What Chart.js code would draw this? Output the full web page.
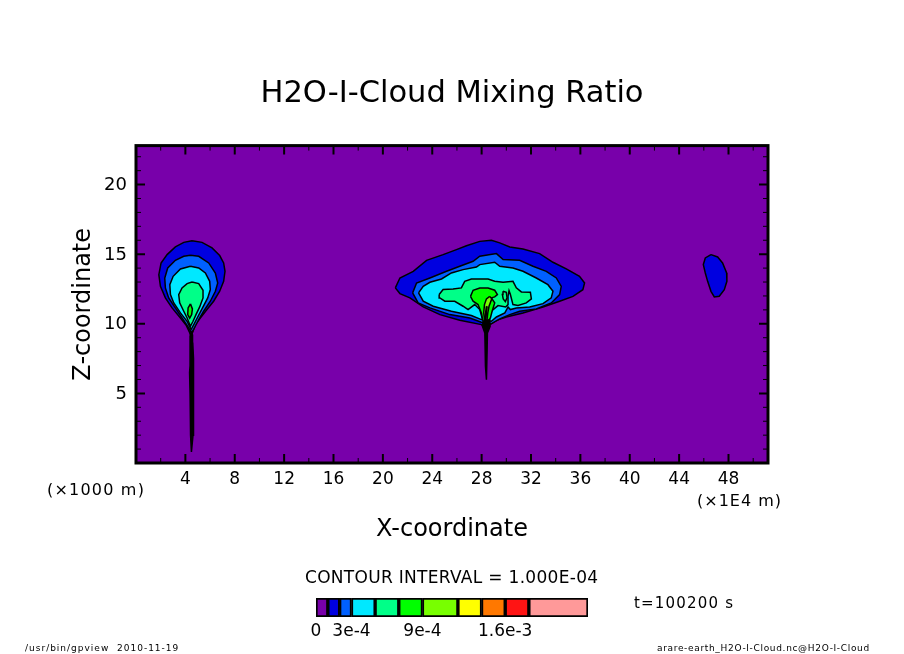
<!DOCTYPE html>
<html>
<head>
<meta charset="utf-8">
<title>H2O-I-Cloud Mixing Ratio</title>
<script src="https://cdn.jsdelivr.net/npm/chart.js@4"></script>
<style>
    body { margin: 0; background: #fff; }
    #wrap { position: relative; width: 904px; height: 654px; overflow: hidden; font-family: "DejaVu Sans", sans-serif; color: #000; }
    canvas { position: absolute; left: 0; top: 0; }
    .txt { position: absolute; white-space: pre; line-height: 1; }
</style>
</head>
<body>
<div id="wrap">
    <canvas id="chartContour" width="904" height="654"></canvas>
    <canvas id="chartBarra" width="904" height="654"></canvas>
    <span class="txt" style="left:47px;top:482px;font-size:16px;letter-spacing:1.2px">(×1000 m)</span>
    <span class="txt" style="left:697px;top:493px;font-size:16px;letter-spacing:1px">(×1E4 m)</span>
    <span class="txt" style="left:305px;top:569px;font-size:17px;letter-spacing:0.3px">CONTOUR INTERVAL = 1.000E-04</span>
    <span class="txt" style="left:634px;top:596px;font-size:15px;letter-spacing:1.2px">t=100200 s</span>
    <span class="txt" style="left:25px;top:644px;font-size:9px;letter-spacing:1px">/usr/bin/gpview  2010-11-19</span>
    <span class="txt" style="left:657px;top:644px;font-size:9px;letter-spacing:0.67px">arare-earth_H2O-I-Cloud.nc@H2O-I-Cloud</span>
</div>
<script>
// ticks
const xMajor = [4, 8, 12, 16, 20, 24, 28, 32, 36, 40, 44, 48];
const xMinor = [2, 6, 10, 14, 18, 22, 26, 30, 34, 38, 42, 46, 50];
const zMajor = [5, 10, 15, 20];
const zMinor = [1, 2, 3, 4, 6, 7, 8, 9, 11, 12, 13, 14, 16, 17, 18, 19, 21, 22];

// contour outlines [x (1E4 m), z (1000 m)]
const left1 = [[4.54,15.97],[5.35,15.85],[6.16,15.45],[6.78,14.90],[7.10,14.37],[7.21,13.77],[7.10,13.05],[6.78,12.34],[6.29,11.62],[5.75,11.02],[5.21,10.42],[4.81,9.94],[4.62,9.46],[4.46,9.10],[4.30,9.46],[4.08,9.87],[3.60,10.42],[2.92,11.14],[2.38,11.86],[1.98,12.69],[1.85,13.53],[2.03,14.37],[2.52,14.97],[3.19,15.52],[3.87,15.85]];
const left2 = [[4.41,14.92],[5.08,14.85],[5.89,14.37],[6.43,13.65],[6.62,12.93],[6.43,12.34],[6.02,11.62],[5.48,10.90],[5.08,10.30],[4.73,9.70],[4.51,9.34],[4.19,9.82],[3.73,10.42],[3.19,11.14],[2.65,11.86],[2.38,12.58],[2.33,13.29],[2.57,14.01],[3.19,14.56],[3.87,14.85]];
const left3 = [[4.41,14.13],[5.08,14.01],[5.62,13.65],[5.97,13.05],[6.02,12.46],[5.81,11.86],[5.43,11.21],[5.03,10.54],[4.68,9.94],[4.46,9.58],[4.14,10.18],[3.60,10.78],[3.06,11.50],[2.79,12.10],[2.74,12.81],[3.01,13.41],[3.60,13.94]];
const left4 = [[4.54,13.00],[5.08,12.89],[5.43,12.41],[5.43,11.86],[5.16,11.21],[4.86,10.66],[4.62,10.18],[4.41,9.82],[4.14,10.42],[3.87,10.90],[3.54,11.50],[3.46,12.10],[3.73,12.58],[4.14,12.89]];
const left5 = [[4.41,11.43],[4.57,11.07],[4.51,10.66],[4.35,10.40],[4.19,10.66],[4.22,11.14]];
const leftStem = [[4.49,0.8],[4.62,2],[4.66,5],[4.66,7.5],[4.60,8.6],[4.58,9.2],[4.46,9.4],[4.38,9.1],[4.38,8.4],[4.38,7],[4.34,6.5],[4.38,5],[4.42,2]];

const mid1 = [[21.01,12.58],[21.38,13.29],[22.46,13.77],[23.54,14.56],[24.88,14.97],[25.96,15.33],[26.77,15.61],[27.85,15.92],[28.79,16.00],[29.47,15.81],[30.28,15.52],[31.35,15.37],[32.70,15.04],[33.78,14.42],[34.86,13.94],[35.93,13.41],[36.34,12.93],[36.20,12.45],[35.40,11.97],[34.32,11.62],[32.97,11.21],[31.35,10.78],[30.00,10.49],[29.20,10.25],[28.66,9.94],[28.17,9.78],[27.98,9.94],[26.23,10.25],[24.62,10.66],[23.27,11.21],[22.19,11.86],[21.38,12.17]];
const mid2 = [[22.41,12.22],[22.73,12.93],[23.81,13.29],[25.16,13.77],[26.23,14.13],[27.31,14.49],[27.85,14.85],[29.20,15.04],[29.74,14.61],[31.08,14.56],[32.16,14.13],[33.24,13.77],[34.05,13.29],[34.45,12.69],[34.32,12.10],[33.64,11.50],[32.43,11.07],[31.08,10.90],[30.28,10.66],[29.47,10.35],[28.79,10.01],[27.98,10.11],[27.04,10.42],[25.42,10.66],[23.81,11.14],[22.86,11.50]];
const mid3 = [[22.89,12.22],[23.27,12.69],[23.81,12.98],[24.75,13.22],[25.55,13.65],[26.50,13.89],[27.58,14.08],[27.85,14.25],[29.06,14.42],[29.47,14.13],[30.54,14.01],[31.35,13.77],[32.43,13.29],[33.37,12.81],[33.78,12.34],[33.64,11.86],[32.97,11.45],[31.89,11.21],[30.81,11.14],[30.33,11.02],[30.14,11.21],[29.88,10.78],[29.20,10.49],[28.79,10.18],[27.98,10.30],[27.17,10.59],[25.55,10.90],[24.08,11.26],[23.27,11.62]];
const mid4 = [[24.56,12.10],[24.88,12.46],[25.69,12.50],[26.36,12.58],[26.63,13.05],[27.17,13.22],[28.12,13.22],[28.52,13.22],[29.06,13.05],[29.74,12.98],[30.54,13.05],[30.81,12.58],[31.22,12.29],[31.95,12.26],[32.03,11.79],[31.62,11.50],[30.95,11.31],[30.54,11.38],[30.33,12.10],[30.22,12.38],[30.14,11.98],[30.14,11.38],[29.95,11.21],[29.33,11.31],[28.93,11.02],[28.52,10.66],[28.25,10.35],[28.06,10.35],[27.85,11.02],[27.44,11.38],[26.90,11.02],[26.50,11.26],[25.82,11.62],[25.02,11.62],[24.62,11.86]];
const midIsland = [[29.73,12.34],[30.00,12.26],[30.06,11.86],[29.92,11.59],[29.75,11.78],[29.68,12.10]];
const mid5 = [[27.10,11.97],[27.31,12.41],[27.85,12.57],[28.52,12.57],[29.06,12.41],[29.28,12.10],[29.06,11.93],[28.79,11.86],[29.06,11.50],[28.85,10.90],[28.71,10.42],[28.44,10.06],[28.12,10.18],[27.98,10.78],[27.71,11.38],[27.31,11.62]];
const mid6 = [[28.66,11.97],[28.82,11.79],[28.60,11.26],[28.50,10.78],[28.44,10.30],[28.26,10.18],[28.17,10.78],[28.23,11.38],[28.39,11.79]];
const midStrand = [[28.39,11.26],[28.44,11.21],[28.33,10.30],[28.25,10.30]];
const midStem = [[28.12,10.18],[28.66,10.30],[28.69,9.82],[28.47,9.34],[28.44,7.91],[28.39,5.99],[28.31,6.95],[28.26,9.34],[28.07,9.82]];
const right1 = [[46.58,14.97],[47.12,14.80],[47.52,14.37],[47.85,13.65],[47.87,13.05],[47.66,12.45],[47.25,11.98],[46.85,11.93],[46.58,12.33],[46.31,13.05],[46.12,13.65],[45.96,14.25],[46.12,14.73]];

// colour bar
const barEdges = [0, 1e-4, 2e-4, 3e-4, 5e-4, 7e-4, 9e-4, 12e-4, 14e-4, 16e-4, 18e-4, 23e-4];
const barCores = ['#7800aa', '#0000e0', '#0060ff', '#00e8ff', '#00ff88', '#00ff00', '#78ff00', '#ffff00', '#ff7800', '#ff1414', '#ff9999'];
const barTicks = [0, 3e-4, 9e-4, 16e-4];
const barLabels = ['0', '3e-4', '9e-4', '1.6e-3'];

const contornos = [
    [left1, barCores[1]], [left2, barCores[2]], [left3, barCores[3]], [left4, barCores[4]], [left5, barCores[5]],
    [mid1, barCores[1]], [mid2, barCores[2]], [mid3, barCores[3]], [mid4, barCores[4]], [midIsland, barCores[4]],
    [mid5, barCores[5]], [mid6, barCores[6]], [midStrand, '#000'],
    [right1, barCores[1]], [leftStem, '#000'], [midStem, '#000']
];

function montarDataset(par, i) {
    const pontos = par[0].map(p => ({ x: p[0], y: p[1] }));
    pontos.push(pontos[0]);
    return {
        data: pontos,
        showLine: true,
        fill: 'shape',
        backgroundColor: par[1],
        borderColor: '#000',
        borderWidth: 1.5,
        pointRadius: 0,
        tension: 0,
        order: -i
    };
}

// purple field, frame and inward ticks on all four sides
const molduraPlugin = {
    id: 'moldura',
    beforeDatasetsDraw(chart) {
        const { ctx, chartArea: a } = chart;
        ctx.fillStyle = barCores[0];
        ctx.fillRect(a.left, a.top, a.width, a.height);
    },
    afterDatasetsDraw(chart) {
        const { ctx, chartArea: a, scales } = chart;
        ctx.save();
        ctx.strokeStyle = '#000';
        ctx.lineWidth = 2;
        const marca = (v, len) => {
            const px = scales.x.getPixelForValue(v);
            ctx.beginPath();
            ctx.moveTo(px, a.bottom); ctx.lineTo(px, a.bottom - len);
            ctx.moveTo(px, a.top); ctx.lineTo(px, a.top + len);
            ctx.stroke();
        };
        const marcaZ = (v, len) => {
            const py = scales.y.getPixelForValue(v);
            ctx.beginPath();
            ctx.moveTo(a.left, py); ctx.lineTo(a.left + len, py);
            ctx.moveTo(a.right, py); ctx.lineTo(a.right - len, py);
            ctx.stroke();
        };
        xMajor.forEach(v => marca(v, 9));
        zMajor.forEach(v => marcaZ(v, 9));
        ctx.lineWidth = 1;
        xMinor.forEach(v => marca(v, 5));
        zMinor.forEach(v => marcaZ(v, 5));
        ctx.lineWidth = 3;
        ctx.strokeRect(a.left, a.top, a.width, a.height);
        ctx.restore();
    }
};

new Chart(document.getElementById('chartContour').getContext('2d'), {
    type: 'scatter',
    data: { datasets: contornos.map(montarDataset) },
    plugins: [molduraPlugin],
    options: {
        responsive: false,
        animation: false,
        plugins: {
            legend: { display: false },
            tooltip: { enabled: false },
            title: {
                display: true,
                text: 'H2O-I-Cloud Mixing Ratio',
                color: '#000',
                font: { family: 'DejaVu Sans', size: 30.5, weight: 'normal' },
                padding: { top: 76, bottom: 33 }
            }
        },
        scales: {
            x: {
                type: 'linear', min: 0, max: 51.2,
                afterBuildTicks: s => { s.ticks = xMajor.map(v => ({ value: v })); },
                afterFit: s => { s.height = 191; },
                grid: { display: false, drawTicks: false },
                border: { display: false },
                ticks: { color: '#000', font: { family: 'DejaVu Sans', size: 17 }, padding: 6, maxRotation: 0, autoSkip: false },
                title: { display: true, text: 'X-coordinate', color: '#000', font: { family: 'DejaVu Sans', size: 24 }, padding: { bottom: 110 } }
            },
            y: {
                type: 'linear', min: 0, max: 22.8,
                afterBuildTicks: s => { s.ticks = zMajor.map(v => ({ value: v })); },
                afterFit: s => { s.width = 136; },
                grid: { display: false, drawTicks: false },
                border: { display: false },
                ticks: { color: '#000', font: { family: 'DejaVu Sans', size: 18 }, padding: 9, labelOffset: 1, autoSkip: false },
                title: { display: true, text: 'Z-coordinate', color: '#000', font: { family: 'DejaVu Sans', size: 24 }, padding: { top: 69 } }
            },
            // empty axis, only keeps the plot centred under the title
            yDireita: {
                type: 'linear', position: 'right',
                afterFit: s => { s.width = 136; },
                grid: { display: false, drawTicks: false },
                border: { display: false },
                ticks: { display: false }
            }
        }
    }
});

new Chart(document.getElementById('chartBarra').getContext('2d'), {
    type: 'bar',
    data: {
        labels: [''],
        datasets: barCores.map((cor, i) => ({
            data: [[barEdges[i], barEdges[i + 1]]],
            backgroundColor: cor,
            borderColor: '#000',
            borderWidth: 2,
            borderSkipped: false,
            barPercentage: 1,
            categoryPercentage: 1,
            grouped: false
        }))
    },
    options: {
        indexAxis: 'y',
        responsive: false,
        animation: false,
        layout: { padding: { left: 316, right: 316, top: 598, bottom: 0 } },
        plugins: { legend: { display: false }, tooltip: { enabled: false } },
        scales: {
            x: {
                type: 'linear', min: 0, max: 23e-4,
                afterBuildTicks: s => { s.ticks = barTicks.map(v => ({ value: v })); },
                afterFit: s => { s.height = 37; },
                grid: { display: false, drawTicks: false },
                border: { display: false },
                ticks: {
                    color: '#000',
                    font: { family: 'DejaVu Sans', size: 17 },
                    padding: 4, maxRotation: 0, autoSkip: false,
                    callback: v => barLabels[barTicks.indexOf(v)]
                }
            },
            y: { display: false }
        }
    }
});
</script>
</body>
</html>
